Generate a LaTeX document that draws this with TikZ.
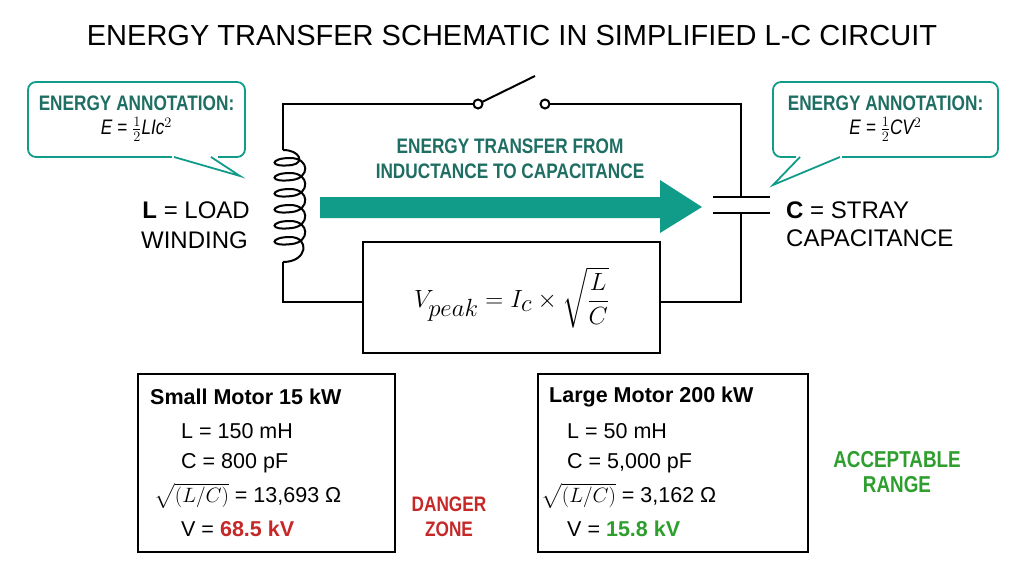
\documentclass[tikz,border=0pt]{standalone}
\usepackage{fontspec}
\usepackage{amsmath}
\usetikzlibrary{calc}
\setmainfont{Liberation Sans}
\newfontfamily\cond{Liberation Sans}[FakeStretch=0.82]
\definecolor{teal1}{HTML}{119C8A}
\definecolor{tealdk}{HTML}{1F6E63}
\definecolor{dred}{HTML}{C62828}
\definecolor{dgreen}{HTML}{2E9E2E}
\begin{document}
\begin{tikzpicture}[x=1pt,y=-1pt,
  wire/.style={line width=2.2pt,line join=miter},
  callout/.style={draw=teal1,line width=1.8pt,rounded corners=8pt,fill=white},
  cbox/.style={draw=black,line width=1.8pt},
  lbl/.style={font=\fontsize{24}{26}\selectfont,inner sep=0pt},
  ttxt/.style={text=tealdk,font=\cond\bfseries\fontsize{21}{25}\selectfont,align=center,inner sep=0pt},
  btxt/.style={font=\fontsize{21.5}{24}\selectfont,inner sep=0pt,anchor=west}]
\useasboundingbox (0,0) rectangle (1024,572);
\fill[white] (0,0) rectangle (1024,572);
\node[font=\fontsize{29}{32}\selectfont] (title) at (512,36) {ENERGY TRANSFER SCHEMATIC IN SIMPLIFIED L-C CIRCUIT};
% circuit
\coordinate (s1) at (478,104); \coordinate (s2) at (545,104);
\draw[wire] (283,150) -- (283,104) -- ($(s1)+(-4,0)$);
\draw[wire] ($(s2)+(4,0)$) -- (741,104) -- (741,197);
\draw[wire] (741,213) -- (741,302) -- (660,302);
\draw[wire] (363,302) -- (283,302) -- (283,262);
\draw[line width=2pt] (s1) circle (4.5);
\draw[line width=2pt] (s2) circle (4.5);
\draw[line width=2pt] ($(s1)+(4,-2)$) -- (535,76);
% inductor
\draw[line width=2pt] (283,150)
  .. controls (300,150) and (305,163) .. (292,165) .. controls (268,168) and (270,158) .. (290,158)
  .. controls (310,158) and (310,178) .. (292,180) .. controls (268,183) and (270,173) .. (290,173)
  .. controls (310,173) and (310,194) .. (292,196) .. controls (268,199) and (270,189) .. (290,189)
  .. controls (310,189) and (310,210) .. (292,212) .. controls (268,215) and (270,205) .. (290,205)
  .. controls (310,205) and (310,226) .. (292,228) .. controls (268,231) and (270,221) .. (290,221)
  .. controls (310,221) and (310,242) .. (292,244) .. controls (268,247) and (270,237) .. (290,237)
  .. controls (310,237) and (308,262) .. (283,262);
% capacitor
\draw[line width=2.4pt] (713,197) -- (770,197);
\draw[line width=2.4pt] (713,213) -- (770,213);
% arrow
\fill[teal1] (320,197) -- (660,197) -- (660,180) -- (702,207) -- (660,233) -- (660,218) -- (320,218) -- cycle;
\node[ttxt] (ar) at (510,159) {ENERGY TRANSFER FROM\\INDUCTANCE TO CAPACITANCE};
% formula box
\node[cbox,minimum width=297pt,minimum height=111pt,inner sep=0pt] (fb) at (511.5,297.5)
  {\fontsize{33}{38}\selectfont$V_{peak}=I_c\times\sqrt{\dfrac{L}{C}}$};
% callouts
\draw[callout] (28,82) rectangle (245,157);
\fill[white] (172,153) rectangle (218,161);
\draw[teal1,line width=1.8pt,line join=miter] (174,157) -- (240,176) -- (211,157);
\node[ttxt] (la) at (136.5,119) {ENERGY ANNOTATION:\\[-1pt]{\normalfont\cond\itshape\fontsize{21}{25}\selectfont\textcolor{black}{E = $\tfrac{1}{2}$LIc$^2$}}};
\draw[callout] (773,82) rectangle (998,157);
\fill[white] (796,153) rectangle (842,161);
\draw[teal1,line width=1.8pt,line join=miter] (800,157) -- (773,185) -- (840,157);
\node[ttxt] (ra) at (885.5,119) {ENERGY ANNOTATION:\\[-1pt]{\normalfont\cond\itshape\fontsize{21}{25}\selectfont\textcolor{black}{E = $\tfrac{1}{2}$CV$^2$}}};
% labels
\node[lbl,anchor=east] (l1) at (250,210) {\textbf{L} = LOAD};
\node[lbl,anchor=east] (l2) at (248,240) {WINDING};
\node[lbl,anchor=west] (c1) at (786,210) {\textbf{C} = STRAY};
\node[lbl,anchor=west] (c2) at (786,238) {CAPACITANCE};
% bottom boxes
\draw[cbox] (138,374) rectangle (395,552);
\node[btxt,font=\bfseries\fontsize{21.5}{24}\selectfont] (a0) at (150,397) {Small Motor 15 kW};
\node[btxt] (a1) at (181,431) {L = 150 mH};
\node[btxt] (a2) at (181,463) {C = 800 pF};
\node[btxt] (a3) at (154,496) {$\sqrt{(L/C)}$ = 13,693 Ω};
\node[btxt] (a4) at (181,529) {V = \textcolor{dred}{\bfseries 68.5 kV}};
\draw[cbox] (538,374) rectangle (808,552);
\node[btxt,font=\bfseries\fontsize{21.5}{24}\selectfont] (b0) at (549,397) {Large Motor 200 kW};
\node[btxt] (b1) at (567,431) {L = 50 mH};
\node[btxt] (b2) at (567,463) {C = 5,000 pF};
\node[btxt] (b3) at (541,496) {$\sqrt{(L/C)}$ = 3,162 Ω};
\node[btxt] (b4) at (567,529) {V = \textcolor{dgreen}{\bfseries 15.8 kV}};
\node[ttxt,text=dred] (dz) at (449,517) {DANGER\\ZONE};
\node[ttxt,text=dgreen,font=\cond\bfseries\fontsize{23}{25}\selectfont] (ok) at (897,472) {ACCEPTABLE\\RANGE};
\end{tikzpicture}
\end{document}
